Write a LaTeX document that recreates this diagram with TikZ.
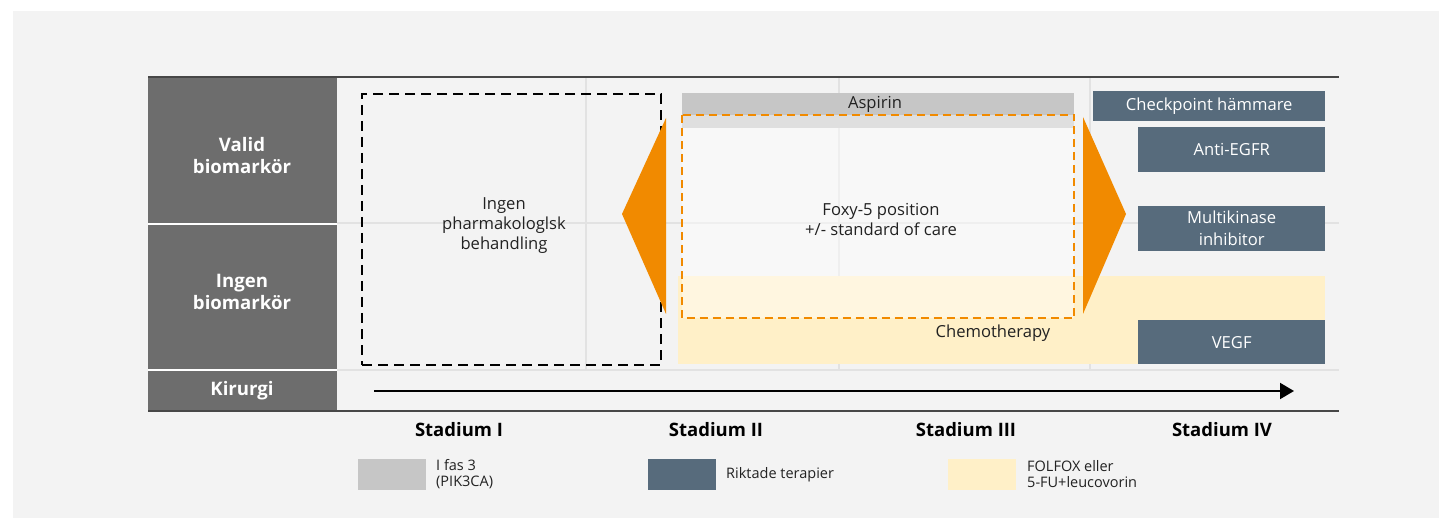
\documentclass[tikz,border=0pt]{standalone}
\usepackage{fontspec}
\setmainfont{Open Sans}
\usetikzlibrary{arrows.meta}
\definecolor{bgc}{HTML}{F3F3F3}
\definecolor{leftc}{HTML}{6D6D6D}
\definecolor{gridc}{HTML}{E2E2E2}
\definecolor{framec}{HTML}{474747}
\definecolor{aspc}{HTML}{C6C6C6}
\definecolor{targc}{HTML}{576B7C}
\definecolor{chemc}{HTML}{FFF0C8}
\definecolor{orc}{HTML}{F18A00}
\definecolor{txtc}{HTML}{222222}
\begin{document}
\begin{tikzpicture}[x=1pt,y=-1pt,
  rowlab/.style={text=white,font=\fontsize{18.6}{22}\selectfont\bfseries,align=center},
  body/.style={text=txtc,font=\fontsize{16.6}{20}\selectfont,align=center},
  tbox/.style={fill=targc,text=white,font=\fontsize{16.6}{22}\selectfont,align=center,inner sep=0pt,anchor=north west},
  stad/.style={text=black,font=\fontsize{18.5}{20}\selectfont\bfseries},
  leg/.style={text=txtc,font=\fontsize{14.5}{16}\selectfont,align=left,anchor=west,inner sep=0pt},
  swatch/.style={minimum width=68pt,minimum height=31pt,inner sep=0pt,anchor=north west},
  grid/.style={draw=gridc,line width=1.2pt},
  tri/.style={fill=orc,draw=none}
]
\useasboundingbox (0,0) rectangle (1439,518);
\fill[white] (0,0) rectangle (1439,518);
\fill[bgc] (13,11) rectangle (1439,518);

% left column
\fill[leftc] (148,77) rectangle (337,411);
\draw[white,line width=1.5pt] (148,224) -- (337,224);
\draw[white,line width=1.5pt] (148,370) -- (337,370);

% grid
\draw[grid] (337,223) -- (1339,223);
\draw[grid] (337,370) -- (1339,370);
\draw[grid] (586,77) -- (586,370);
\draw[grid] (839,77) -- (839,370);
\draw[grid] (1090,77) -- (1090,370);

% frame lines
\draw[framec,line width=2pt] (148,77) -- (1339,77);
\draw[framec,line width=2pt] (148,411) -- (1339,411);

% row labels
\node[rowlab] (valid) at (242,156) {Valid\\biomarkör};
\node[rowlab] (ingenb) at (242,292) {Ingen\\biomarkör};
\node[rowlab] (kir) at (242,391) {Kirurgi};

% chemotherapy band
\node[fill=chemc,minimum width=647pt,minimum height=88pt,inner sep=0pt,anchor=north west] (chemo) at (678,276) {};
\node[body] (chemotxt) at (993,333) {Chemotherapy};

% aspirin bar
\node[fill=aspc,minimum width=392pt,minimum height=35pt,inner sep=0pt,anchor=north west] (asp) at (682,93) {};
\node[body] (asptxt) at (875,104) {Aspirin};

% white overlay of foxy region
\node[fill=white,fill opacity=0.45,minimum width=392pt,minimum height=203pt,inner sep=0pt,anchor=north west] (foxy) at (682,115) {};
\draw[orc,line width=2pt,dash pattern=on 8pt off 5pt] (foxy.north west) rectangle (foxy.south east);
\node[body] (foxytxt) at (881,219) {Foxy-5 position\\+/- standard of care};

% black dashed box
\node[draw=black,line width=2pt,dash pattern=on 10pt off 6pt,minimum width=299pt,minimum height=271pt,inner sep=0pt,anchor=north west] (nobox) at (361,93) {};
\node[body] (notxt) at (504,226) {Ingen\\pharmakologlsk\\behandling};

% orange triangles
\coordinate (lt1) at (666,118);
\coordinate (lt2) at (622,214);
\coordinate (lt3) at (666,314);
\fill[tri] (lt1) -- (lt2) -- (lt3) -- cycle;
\coordinate (rt1) at (1083,117);
\coordinate (rt2) at (1126,214);
\coordinate (rt3) at (1083,314);
\fill[tri] (rt1) -- (rt2) -- (rt3) -- cycle;

% targeted therapy boxes
\node[tbox,minimum width=232pt,minimum height=30pt] (check) at (1093,91) {Checkpoint hämmare};
\node[tbox,minimum width=187pt,minimum height=45pt] (egfr) at (1138,127) {Anti-EGFR};
\node[tbox,minimum width=187pt,minimum height=45pt] (multi) at (1138,206) {Multikinase\\inhibitor};
\node[tbox,minimum width=187pt,minimum height=44pt] (vegf) at (1138,320) {VEGF};

% surgery arrow
\coordinate (arrS) at (374,391);
\coordinate (arrE) at (1294,391);
\draw[black,line width=2pt,-{Triangle[length=14pt,width=16pt]}] (arrS) -- (arrE);

% stadium labels
\node[stad] (s1) at (459,430) {Stadium I};
\node[stad] (s2) at (716,430) {Stadium II};
\node[stad] (s3) at (966,430) {Stadium III};
\node[stad] (s4) at (1222,430) {Stadium IV};

% legend
\node[swatch,fill=aspc] (lg1) at (358,459) {};
\node[leg] (lt1txt) at (436,474.5) {I fas 3\\(PIK3CA)};
\node[swatch,fill=targc] (lg2) at (648,459) {};
\node[leg] (lt2txt) at (726,475) {Riktade terapier};
\node[swatch,fill=chemc] (lg3) at (948,459) {};
\node[leg] (lt3txt) at (1027,474.5) {FOLFOX eller\\5-FU+leucovorin};
\end{tikzpicture}
\end{document}
